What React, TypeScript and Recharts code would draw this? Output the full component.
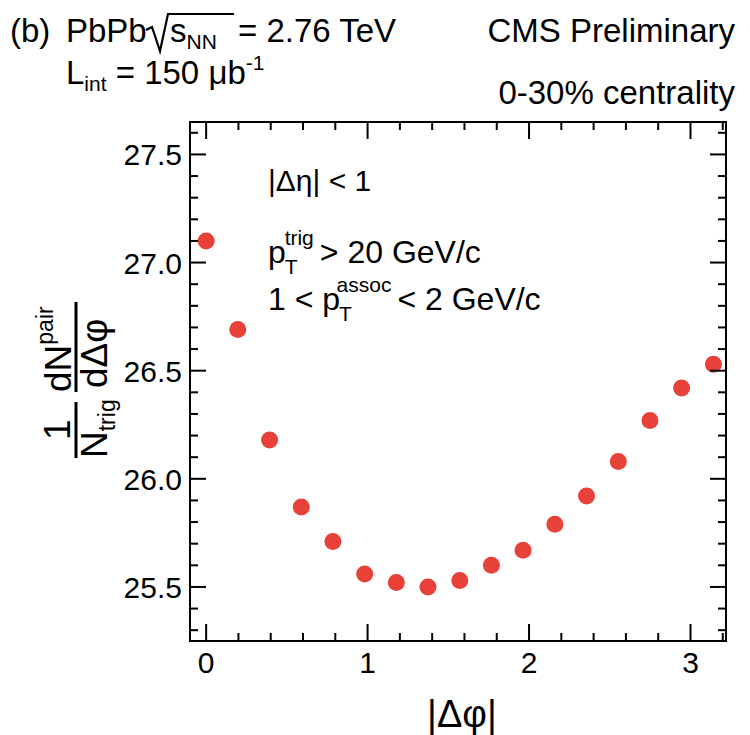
import React from 'react';
import { ScatterChart, Scatter, XAxis, YAxis, ReferenceArea } from 'recharts';

// |dphi| bin centres (pi/16 steps) and per-trigger pair yield
const PHI = [0, 0.196, 0.393, 0.589, 0.785, 0.982, 1.178, 1.374, 1.571, 1.767, 1.963, 2.16, 2.356, 2.553, 2.749, 2.945, 3.142];
const YIELD = [27.1, 26.69, 26.18, 25.87, 25.71, 25.56, 25.52, 25.5, 25.53, 25.6, 25.67, 25.79, 25.92, 26.08, 26.27, 26.42, 26.53];

const X_DOMAIN = [-0.1, 3.22];
const Y_DOMAIN = [25.25, 27.65];
const X_TICKS = [0, 0.2, 0.4, 0.6, 0.8, 1, 1.2, 1.4, 1.6, 1.8, 2, 2.2, 2.4, 2.6, 2.8, 3, 3.2];
const X_MAJOR = [0, 1, 2, 3];
const Y_TICKS = [25.3, 25.4, 25.5, 25.6, 25.7, 25.8, 25.9, 26, 26.1, 26.2, 26.3, 26.4, 26.5, 26.6, 26.7, 26.8, 26.9, 27, 27.1, 27.2, 27.3, 27.4, 27.5, 27.6];
const Y_MAJOR = [25.5, 26, 26.5, 27, 27.5];

const W = 750;
const H = 735;
const Y_AXIS_W = 60;
const X_AXIS_H = 40;
const M = { top: 122, right: 24, bottom: 94 - X_AXIS_H, left: 190 - Y_AXIS_W };
const TOP = M.top;
const RIGHT = W - M.right;
const FONT = '"Liberation Sans", Arial, Helvetica, sans-serif';
const RED = '#e8413a';

const isMajor = (list: number[], v: number) => list.some((m) => Math.abs(m - v) < 1e-6);

// ROOT-style ticks: inward, mirrored on the opposite side of the frame
const XTick = (props: any) => {
  const { x, y, payload } = props;
  const major = isMajor(X_MAJOR, payload.value);
  const len = major ? 17 : 8;
  return (
    <g>
      <line x1={x} y1={y} x2={x} y2={y - len} stroke="#000" strokeWidth={2} />
      <line x1={x} y1={TOP} x2={x} y2={TOP + len} stroke="#000" strokeWidth={2} />
      {major && (
        <text x={x} y={y + 32} textAnchor="middle" fontSize={30} fontFamily={FONT} fill="#000">
          {payload.value}
        </text>
      )}
    </g>
  );
};

const YTick = (props: any) => {
  const { x, y, payload } = props;
  const major = isMajor(Y_MAJOR, payload.value);
  const len = major ? 16 : 8;
  return (
    <g>
      <line x1={x} y1={y} x2={x + len} y2={y} stroke="#000" strokeWidth={2} />
      <line x1={RIGHT} y1={y} x2={RIGHT - len} y2={y} stroke="#000" strokeWidth={2} />
      {major && (
        <text x={x - 8} y={y + 11} textAnchor="end" fontSize={30} fontFamily={FONT} fill="#000">
          {payload.value.toFixed(1)}
        </text>
      )}
    </g>
  );
};

const Dot = (props: any) => <circle cx={props.cx} cy={props.cy} r={8.5} fill={RED} />;

export default function App() {
  const data = PHI.map((phi, i) => ({ phi, y: YIELD[i] }));
  return (
    <div style={{ position: 'absolute', left: 0, top: 0, width: W, height: H, background: '#fff' }}>
      <ScatterChart width={W} height={H} margin={M}>
        <XAxis
          type="number"
          dataKey="phi"
          domain={X_DOMAIN}
          ticks={X_TICKS}
          interval={0}
          height={X_AXIS_H}
          tickSize={0}
          tickMargin={0}
          tick={<XTick />}
          axisLine={{ stroke: '#000', strokeWidth: 2 }}
          allowDataOverflow
        />
        <YAxis
          type="number"
          dataKey="y"
          domain={Y_DOMAIN}
          ticks={Y_TICKS}
          interval={0}
          width={Y_AXIS_W}
          tickSize={0}
          tickMargin={0}
          tick={<YTick />}
          axisLine={{ stroke: '#000', strokeWidth: 2 }}
          allowDataOverflow
        />
        <ReferenceArea x1={X_DOMAIN[0]} x2={X_DOMAIN[1]} y1={Y_DOMAIN[0]} y2={Y_DOMAIN[1]} fill="none" stroke="#000" strokeWidth={2} />
        <Scatter data={data} shape={<Dot />} isAnimationActive={false} />
      </ScatterChart>

      <svg width={W} height={H} style={{ position: 'absolute', left: 0, top: 0, pointerEvents: 'none' }} fontFamily={FONT} fill="#000">
        {/* header, left */}
        <text x={10} y={42} fontSize={33}>(b)</text>
        <text x={66} y={42} fontSize={33}>PbPb</text>
        <path d="M146 30 L152 27 L160 51 L168 14 L234 14" fill="none" stroke="#000" strokeWidth={2.2} />
        <text x={170} y={42} fontSize={33}>
          s<tspan fontSize={21} dy={7}>NN</tspan>
        </text>
        <text x={238} y={42} fontSize={33}>= 2.76 TeV</text>
        <text x={66} y={84} fontSize={33}>
          L<tspan fontSize={21} dy={7}>int</tspan>
          <tspan dy={-7}> = 150 μb</tspan>
          <tspan fontSize={21} dy={-14}>-1</tspan>
        </text>

        {/* header, right */}
        <text x={735} y={42} fontSize={33} textAnchor="end">CMS Preliminary</text>
        <text x={735} y={104} fontSize={33} textAnchor="end">0-30% centrality</text>

        {/* selection cuts */}
        <text x={268} y={191} fontSize={30}>|Δη| &lt; 1</text>
        <text x={268} y={263} fontSize={32}>
          p<tspan fontSize={21} dy={11} dx={-1}>T</tspan>
          <tspan fontSize={21} dx={-13} dy={-29}>trig</tspan>
          <tspan dy={18} dx={6}>&gt; 20 GeV/c</tspan>
        </text>
        <text x={268} y={310} fontSize={32}>
          1 &lt; p<tspan fontSize={21} dy={11} dx={-1}>T</tspan>
          <tspan fontSize={21} dx={-13} dy={-29}>assoc</tspan>
          <tspan dy={18} dx={6}>&lt; 2 GeV/c</tspan>
        </text>

        {/* x axis title */}
        <text x={462} y={727} fontSize={38} textAnchor="middle">|Δφ|</text>

        {/* y axis title: 1/N_trig dN^pair/dΔφ */}
        <g transform="translate(76 380) rotate(-90)">
          <text x={-60} y={-6} fontSize={37}>1</text>
          <line x1={-78} y1={0} x2={-22} y2={0} stroke="#000" strokeWidth={3} />
          <text x={-78} y={31} fontSize={37}>
            N<tspan fontSize={23} dy={8}>trig</tspan>
          </text>
          <text x={-12} y={-5} fontSize={37}>
            dN<tspan fontSize={23} dy={-18}>pair</tspan>
          </text>
          <line x1={-12} y1={0} x2={78} y2={0} stroke="#000" strokeWidth={3} />
          <text x={-8} y={31} fontSize={37}>dΔφ</text>
        </g>
      </svg>
    </div>
  );
}
